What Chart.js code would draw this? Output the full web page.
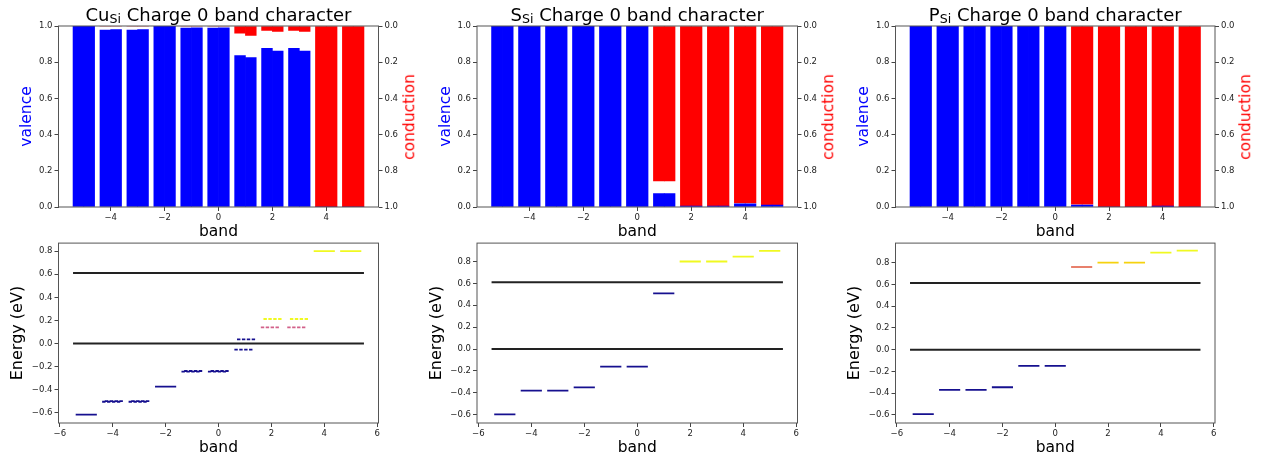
<!DOCTYPE html>
<html>
<head>
<meta charset="utf-8">
<script src="https://cdn.jsdelivr.net/npm/chart.js@4.4.0/dist/chart.umd.min.js"></script>
<style>
  body { margin: 0; background: #fff; width: 1261px; height: 457px; position: relative; overflow: hidden; font-family: "DejaVu Sans", sans-serif; }
  canvas { position: absolute; }
  .title { position: absolute; top: 4px; font-size: 18px; line-height: 21px; color: #000; white-space: nowrap; transform: translateX(-50%); }
  .title sub { font-size: 0.7em; vertical-align: -0.18em; line-height: 0; }
  .cond { position: absolute; color: #ff0000; font-size: 15.5px; line-height: 1; white-space: nowrap; transform: translate(-50%, -50%) rotate(-90deg); }
</style>
</head>
<body>
<canvas id="top0"></canvas><canvas id="top1"></canvas><canvas id="top2"></canvas>
<canvas id="bot0"></canvas><canvas id="bot1"></canvas><canvas id="bot2"></canvas>
<script>
// band index
const bands = [-5, -4, -3, -2, -1, 0, 1, 2, 3, 4, 5];

// band character: valence (blue, from bottom) and conduction (red, from top), spin up / spin down
const cuValenceUp      = [1.0, 0.977, 0.977, 1.0, 0.988, 0.988, 0.837, 0.876, 0.876, 0, 0];
const cuValenceDown    = [1.0, 0.980, 0.980, 1.0, 0.990, 0.990, 0.826, 0.861, 0.861, 0, 0];
const cuConductionUp   = [0, 0, 0, 0, 0, 0, 0.039, 0.024, 0.024, 1, 1];
const cuConductionDown = [0, 0, 0, 0, 0, 0, 0.052, 0.030, 0.030, 1, 1];
const sValence    = [1, 1, 1, 1, 1, 1, 0.074, 0.005, 0.005, 0.017, 0.010];
const sConduction = [0, 0, 0, 0, 0, 0, 0.856, 0.995, 0.995, 0.978, 0.988];
const pValence    = [1, 1, 1, 1, 1, 1, 0.010, 0, 0, 0.005, 0];
const pConduction = [0, 0, 0, 0, 0, 0, 0.985, 1, 1, 1, 1];

// energy levels (eV)
const NAVY = '#16108f', PINK = '#d2618a', YEL = '#f0f921', GOLD = '#f5d20f', SALMON = '#e8806c';
const cuLevelUp   = [-0.615, -0.503, -0.503, -0.372, -0.243, -0.243, -0.052, 0.141, 0.141, 0.80, 0.80];
const cuLevelDown = [-0.615, -0.497, -0.497, -0.372, -0.237, -0.237, 0.037, 0.213, 0.213, 0.80, 0.80];
const cuColorUp   = [NAVY, NAVY, NAVY, NAVY, NAVY, NAVY, NAVY, PINK, PINK, YEL, YEL];
const cuColorDown = [NAVY, NAVY, NAVY, NAVY, NAVY, NAVY, NAVY, YEL, YEL, YEL, YEL];
const sLevels = [-0.597, -0.38, -0.38, -0.35, -0.16, -0.16, 0.508, 0.80, 0.80, 0.845, 0.897];
const sColors = [NAVY, NAVY, NAVY, NAVY, NAVY, NAVY, NAVY, YEL, YEL, YEL, YEL];
const pLevels = [-0.594, -0.37, -0.37, -0.346, -0.15, -0.15, 0.76, 0.80, 0.80, 0.893, 0.91];
const pColors = [NAVY, NAVY, NAVY, NAVY, NAVY, NAVY, SALMON, GOLD, GOLD, YEL, YEL];
// VBM / CBM reference lines
const cuEdges = [0, 0.612];
const sEdges  = [0, 0.61];
const pEdges  = [0, 0.613];

// ticks
const topXTicks = [-4, -2, 0, 2, 4];
const fracTicks = [0, 0.2, 0.4, 0.6, 0.8, 1.0];
const botXTicks = [-6, -4, -2, 0, 2, 4, 6];
const energyTicks = [-0.6, -0.4, -0.2, 0, 0.2, 0.4, 0.6, 0.8];

// layout (px)
const cols = [[0, 420, 58.5, 378.5], [420, 840, 477, 797.5], [840, 1261, 895.5, 1215]];
const titles = ['Cu<sub>Si</sub> Charge 0 band character', 'S<sub>Si</sub> Charge 0 band character', 'P<sub>Si</sub> Charge 0 band character'];
const topRange = [-5.94, 5.94];
const botRange = [-6.05, 6.05];
const energyRanges = [[-0.687, 0.87], [-0.676, 0.968], [-0.675, 0.98]];

const fmt = (v, d) => (v < 0 ? '\u2212' : '') + Math.abs(v).toFixed(d);
const tickFont = { family: 'DejaVu Sans', size: 8.5 };
const labFont = { family: 'DejaVu Sans', size: 15.5 };

const frame = {
  id: 'frame',
  afterDraw(chart) {
    const { ctx, chartArea: a } = chart;
    ctx.save();
    ctx.strokeStyle = '#555';
    ctx.lineWidth = 1;
    ctx.strokeRect(a.left, a.top, a.right - a.left, a.bottom - a.top);
    ctx.restore();
  }
};

function place(cv, left, top, w, h) {
  cv.width = w; cv.height = h;
  cv.style.left = left + 'px'; cv.style.top = top + 'px';
  cv.style.width = w + 'px'; cv.style.height = h + 'px';
}

function axis(ticks, min, max, dec, extra) {
  return Object.assign({
    type: 'linear', min: min, max: max, offset: false,
    afterBuildTicks: s => { s.ticks = ticks.map(v => ({ value: v })); },
    ticks: { font: tickFont, color: '#222', padding: 2, callback: v => fmt(v, dec), maxRotation: 0, autoSkip: false },
    grid: { display: true, drawOnChartArea: false, drawTicks: true, tickLength: 4, color: '#444', offset: false },
    border: { display: false }
  }, extra);
}

function makeTop(c, valUp, valDown, condUp, condDown) {
  const [c0, c1, L, R] = cols[c];
  const cv = document.getElementById('top' + c);
  place(cv, c0, 0, c1 - c0, 242);
  const barPx = 0.4 * (R - L) / (topRange[1] - topRange[0]);
  const ds = (arr, dx, color, axisId) => ({
    data: bands.map((b, i) => ({ x: b + dx, y: arr[i] })),
    backgroundColor: color, borderWidth: 0, yAxisID: axisId,
    barThickness: barPx, grouped: false
  });
  new Chart(cv, {
    type: 'bar',
    data: {
      datasets: [
        ds(valUp, -0.2, '#0000ff', 'y'), ds(valDown, 0.2, '#0000ff', 'y'),
        ds(condUp, -0.2, '#ff0000', 'y1'), ds(condDown, 0.2, '#ff0000', 'y1')
      ]
    },
    options: {
      responsive: false, animation: false,
      layout: { padding: { top: 26, left: 0, right: 0, bottom: 0 } },
      plugins: { legend: { display: false }, tooltip: { enabled: false } },
      scales: {
        x: axis(topXTicks, topRange[0], topRange[1], 0, {
          afterFit: s => { s.height = 35; },
          title: { display: true, text: 'band', color: '#000', font: labFont, padding: { top: 0, bottom: 1 } }
        }),
        y: axis(fracTicks, 0, 1, 1, {
          position: 'left',
          afterFit: s => { s.width = L - c0; },
          title: { display: true, text: 'valence', color: '#0000ff', font: labFont, padding: { top: L - c0 - 31.5 - 9.3, bottom: 0 } }
        }),
        y1: axis(fracTicks, 0, 1, 1, {
          position: 'right', reverse: true,
          afterFit: s => { s.width = c1 - R; }
        })
      }
    },
    plugins: [frame]
  });
  const t = document.createElement('div');
  t.className = 'title'; t.innerHTML = titles[c]; t.style.left = ((L + R) / 2) + 'px';
  document.body.appendChild(t);
  const k = document.createElement('div');
  k.className = 'cond'; k.textContent = 'conduction';
  k.style.left = (R + 31) + 'px'; k.style.top = '116.5px';
  document.body.appendChild(k);
}

function seg(x0, x1, y, color, width, dash) {
  return { data: [{ x: x0, y: y }, { x: x1, y: y }], borderColor: color, borderWidth: width, borderDash: dash, pointRadius: 0, fill: false };
}

function makeBottom(c, levUp, levDown, colUp, colDown, edges) {
  const [c0, c1, L, R] = cols[c];
  const cv = document.getElementById('bot' + c);
  place(cv, c0, 236, c1 - c0, 221);
  const sets = edges.map(e => seg(-5.5, 5.5, e, '#222', 2, []));
  bands.forEach((b, i) => {
    if (levUp[i] === levDown[i] && colUp[i] === colDown[i]) {
      sets.push(seg(b - 0.4, b + 0.4, levUp[i], colUp[i], 1.8, []));
    } else {
      sets.push(seg(b - 0.4, b + 0.3, levUp[i], colUp[i], 1.8, [3.4, 1.5]));
      sets.push(seg(b - 0.3, b + 0.4, levDown[i], colDown[i], 1.8, [3.4, 1.5]));
    }
  });
  const yr = energyRanges[c];
  new Chart(cv, {
    type: 'line',
    data: { datasets: sets },
    options: {
      responsive: false, animation: false,
      layout: { padding: { top: 7, left: 0, right: c1 - R, bottom: 0 } },
      plugins: { legend: { display: false }, tooltip: { enabled: false } },
      scales: {
        x: axis(botXTicks, botRange[0], botRange[1], 0, {
          afterFit: s => { s.height = 34; },
          title: { display: true, text: 'band', color: '#000', font: labFont, padding: { top: 0, bottom: 0 } }
        }),
        y: axis(energyTicks, yr[0], yr[1], 1, {
          afterFit: s => { s.width = L - c0; },
          title: { display: true, text: 'Energy (eV)', color: '#000', font: { family: 'DejaVu Sans', size: 16 }, padding: { top: L - c0 - 40.3 - 9.6, bottom: 0 } }
        })
      }
    },
    plugins: [frame]
  });
}

makeTop(0, cuValenceUp, cuValenceDown, cuConductionUp, cuConductionDown);
makeTop(1, sValence, sValence, sConduction, sConduction);
makeTop(2, pValence, pValence, pConduction, pConduction);
makeBottom(0, cuLevelUp, cuLevelDown, cuColorUp, cuColorDown, cuEdges);
makeBottom(1, sLevels, sLevels, sColors, sColors, sEdges);
makeBottom(2, pLevels, pLevels, pColors, pColors, pEdges);
</script>
</body>
</html>
